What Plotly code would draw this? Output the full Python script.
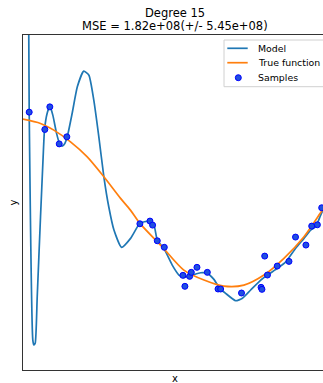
import plotly.graph_objects as go

# Samples
sample_x = [0.0203, 0.0715, 0.0879, 0.1187, 0.1436, 0.383, 0.416, 0.4246, 0.440, 0.463,
            0.524, 0.5305, 0.546, 0.5515, 0.570, 0.604, 0.639, 0.6475, 0.716, 0.780,
            0.783, 0.792, 0.801, 0.833, 0.8715, 0.893, 0.927, 0.946, 0.9646, 0.9787]
sample_y = [1.079, 0.872, 1.142, 0.700, 0.784, -0.254, -0.222, -0.270, -0.457, -0.535,
            -0.870, -1.001, -0.882, -0.834, -0.774, -0.834, -1.033, -1.033, -1.081, -1.013,
            -1.037, -0.640, -0.866, -0.759, -0.703, -0.413, -0.508, -0.282, -0.266, -0.063]

# True function
true_x = [0.0, 0.0574, 0.101, 0.1557, 0.2105, 0.265, 0.3197, 0.352, 0.383, 0.456,
          0.527, 0.593, 0.658, 0.724, 0.7895, 0.855, 0.9207, 0.985, 1.0]
true_y = [0.995, 0.944, 0.864, 0.724, 0.545, 0.307, 0.049, -0.091, -0.249, -0.529,
          -0.807, -0.926, -0.998, -0.986, -0.866, -0.667, -0.409, -0.070, 0.0]

# Degree-15 model
model_x = [0.018, 0.0203, 0.0321, 0.0354, 0.040, 0.0466, 0.0574, 0.066, 0.0705, 0.079,
           0.088, 0.0977, 0.110, 0.1197, 0.1285, 0.137, 0.145, 0.161, 0.178, 0.199,
           0.216, 0.232, 0.2485, 0.265, 0.281, 0.298, 0.323, 0.3525, 0.383, 0.412,
           0.429, 0.440, 0.4616, 0.489, 0.511, 0.527, 0.555, 0.582, 0.604, 0.6256,
           0.642, 0.664, 0.697, 0.719, 0.746, 0.779, 0.806, 0.8334, 0.861, 0.893,
           0.9207, 0.9426, 0.959, 0.9754, 0.985]
model_y = [2.6, 1.08, -1.64, -1.70, -1.68, -1.125, -0.171, 0.545, 0.87, 1.063,
           1.150, 1.043, 0.825, 0.705, 0.673, 0.705, 0.784, 1.063, 1.381, 1.568,
           1.520, 1.222, 0.784, 0.307, -0.051, -0.329, -0.536, -0.428, -0.249, -0.222,
           -0.270, -0.449, -0.548, -0.747, -0.866, -0.894, -0.866, -0.839, -0.846, -0.918,
           -1.013, -1.085, -1.173, -1.144, -1.045, -0.926, -0.854, -0.786, -0.708, -0.548,
           -0.428, -0.329, -0.290, -0.150, -0.070]

title_lines = ["Degree 15", "MSE = 1.82e+08(+/- 5.45e+08)"]
legend_labels = ["Model", "True function", "Samples"]

FONT = "DejaVu Sans"
C_MODEL = "#1f77b4"
C_TRUE = "#ff7f0e"
C_SAMPLE = "#1f4fe0"

fig = go.Figure()
fig.add_trace(go.Scatter(x=model_x, y=model_y, mode="lines", name=legend_labels[0],
                         line=dict(color=C_MODEL, width=1.7, shape="spline", smoothing=0.5)))
fig.add_trace(go.Scatter(x=true_x, y=true_y, mode="lines", name=legend_labels[1],
                         line=dict(color=C_TRUE, width=1.7, shape="spline", smoothing=0.8)))
fig.add_trace(go.Scatter(x=sample_x, y=sample_y, mode="markers", name=legend_labels[2],
                         marker=dict(color=C_SAMPLE, size=6, line=dict(color="#0000ff", width=1)),
                         cliponaxis=False))

# legend drawn by hand (matplotlib-like compact layout)
shapes = [
    dict(type="rect", xref="paper", yref="paper", x0=0.67, x1=1.03, y0=0.8457, y1=0.985,
         line=dict(color="#d0d0d0", width=1), fillcolor="white", layer="below"),
    dict(type="line", xref="paper", yref="paper", x0=0.681, x1=0.749, y0=0.9603, y1=0.9603,
         line=dict(color=C_MODEL, width=1.7), layer="above"),
    dict(type="line", xref="paper", yref="paper", x0=0.681, x1=0.749, y0=0.9173, y1=0.9173,
         line=dict(color=C_TRUE, width=1.7), layer="above"),
]
legend_y = [0.9603, 0.9173, 0.8725]
annotations = [
    dict(text=lab, xref="paper", yref="paper", x=0.7757, y=yy, xanchor="left", yanchor="middle",
         showarrow=False, font=dict(size=9.4))
    for lab, yy in zip(legend_labels, legend_y)
]
annotations += [
    dict(text=title_lines[0], xref="paper", yref="paper", x=0.507, y=1.066,
         xanchor="center", yanchor="middle", showarrow=False, font=dict(size=11.5)),
    dict(text=title_lines[1], xref="paper", yref="paper", x=0.507, y=1.026,
         xanchor="center", yanchor="middle", showarrow=False, font=dict(size=11.5)),
    dict(text="x", xref="paper", yref="paper", x=0.507, y=-0.024,
         xanchor="center", yanchor="middle", showarrow=False, font=dict(size=10)),
    dict(text="y", xref="paper", yref="paper", x=-0.033, y=0.5, textangle=-90,
         xanchor="center", yanchor="middle", showarrow=False, font=dict(size=10)),
]

# sample marker in legend
fig.add_trace(go.Scatter(x=[0.7177], y=[0.8725], xaxis="x2", yaxis="y2", mode="markers",
                         marker=dict(color=C_SAMPLE, size=6, line=dict(color="#0000ff", width=1)),
                         showlegend=False, hoverinfo="skip", cliponaxis=False))

fig.update_layout(
    width=323, height=383,
    margin=dict(l=23, r=0, t=35, b=13),
    paper_bgcolor="white", plot_bgcolor="white",
    font=dict(family=FONT, size=10, color="black"),
    showlegend=False,
    xaxis=dict(range=[0, 0.983], showticklabels=False, ticks="", showgrid=False, zeroline=False,
               showline=True, linecolor="#333", linewidth=1.2, mirror=True),
    yaxis=dict(range=[-2, 2], showticklabels=False, ticks="", showgrid=False, zeroline=False,
               showline=True, linecolor="#333", linewidth=1.2),
    xaxis2=dict(range=[0, 1], overlaying="x", visible=False, domain=[0, 1], anchor="y2"),
    yaxis2=dict(range=[0, 1], overlaying="y", visible=False, anchor="x2"),
    shapes=shapes,
    annotations=annotations,
)

fig.write_html("out.html",
               config={"displayModeBar": False},
               post_script="document.body.style.margin='0';document.body.style.overflow='hidden';")
